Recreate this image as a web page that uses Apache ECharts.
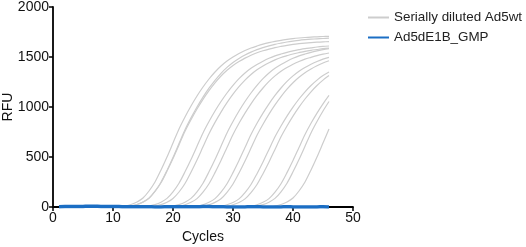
<!DOCTYPE html>
<html>
<head>
<meta charset="utf-8">
<script src="https://cdn.jsdelivr.net/npm/echarts@6/dist/echarts.min.js"></script>
<style>
  html, body { margin: 0; padding: 0; background: #fff; }
  #main { width: 526px; height: 247px; }
</style>
</head>
<body>
<div id="main"></div>
<script>
// amplification cycles
var cycles = [1,2,3,4,5,6,7,8,9,10,11,12,13,14,15,16,17,18,19,20,21,22,23,24,25,26,27,28,29,30,31,32,33,34,35,36,37,38,39,40,41,42,43,44,45,46];

// RFU of the serial dilution curves
var wtA1 = [0,0,0,0,0,0,0,0,0,0, 0, 10,25,50,90,160,250,370,500,640,780,900,1010,1110,1200,1280,1350,1410,1460,1500,1535,1565,1590,1610,1628,1643,1656,1667,1676,1684,1690,1695,1699,1702,1705,1707];
var wtA2 = [0,0,0,0,0,0,0,0,0,0, 0,0, 10,25,50,89,158,248,366,495,634,772,891,1000,1099,1188,1267,1337,1396,1445,1485,1520,1549,1574,1594,1612,1627,1639,1650,1659,1667,1673,1678,1682,1685,1688];
var wtA3 = [0,0,0,0,0,0,0,0,0,0, 0,0, 10,24,49,87,155,243,359,485,621,757,873,980,1077,1164,1242,1310,1368,1416,1455,1489,1518,1542,1562,1579,1594,1606,1617,1626,1633,1639,1644,1648,1651,1654];
var wtB1 = [0,0,0,0,0,0,0,0,0,0, 0,0,0,0,0, 10,24,48,86,152,238,352,475,608,741,855,960,1055,1140,1216,1283,1340,1387,1425,1458,1487,1511,1530,1547,1561,1573,1584,1592,1600,1606,1610];
var wtB2 = [0,0,0,0,0,0,0,0,0,0, 0,0,0,0,0,0, 9,24,47,85,150,235,348,470,602,733,846,949,1043,1128,1203,1269,1325,1372,1410,1443,1471,1495,1513,1530,1544,1557,1567,1575,1583,1589];
var wtC1 = [0,0,0,0,0,0,0,0,0,0, 0,0,0,0,0,0,0,0,0, 10,24,48,86,152,238,352,475,608,741,855,960,1055,1140,1216,1283,1340,1387,1425,1458,1487,1511,1530,1547,1561,1573,1584];
var wtC2 = [0,0,0,0,0,0,0,0,0,0, 0,0,0,0,0,0,0,0,0,0, 9,23,47,84,149,233,344,465,595,725,837,939,1032,1116,1190,1256,1311,1358,1395,1428,1455,1479,1497,1514,1528,1540];
var wtD1 = [0,0,0,0,0,0,0,0,0,0, 0,0,0,0,0,0,0,0,0,0, 0,0,0, 9,23,47,84,149,233,344,465,595,725,837,939,1032,1116,1190,1256,1311,1358,1395,1428,1455,1479,1497];
var wtD2 = [0,0,0,0,0,0,0,0,0,0, 0,0,0,0,0,0,0,0,0,0, 0,0,0,0, 9,23,46,83,147,230,340,460,589,718,828,929,1021,1104,1178,1242,1297,1343,1380,1412,1440,1463];
var wtE1 = [0,0,0,0,0,0,0,0,0,0, 0,0,0,0,0,0,0,0,0,0, 0,0,0,0,0,0,0, 9,23,45,81,144,225,333,450,576,702,810,909,999,1080,1152,1215,1269,1314,1350];
var wtE2 = [0,0,0,0,0,0,0,0,0,0, 0,0,0,0,0,0,0,0,0,0, 0,0,0,0,0,0,0,0, 9,23,45,81,144,225,333,450,576,702,810,909,999,1080,1152,1215,1269,1314];
var wtF1 = [0,0,0,0,0,0,0,0,0,0, 0,0,0,0,0,0,0,0,0,0, 0,0,0,0,0,0,0,0,0,0, 0,0, 9,23,47,84,149,233,344,465,595,725,837,939,1032,1116];
var wtF2 = [0,0,0,0,0,0,0,0,0,0, 0,0,0,0,0,0,0,0,0,0, 0,0,0,0,0,0,0,0,0,0, 0,0,0, 10,24,48,86,152,238,352,475,608,741,855,960,1055];
var wtG1 = [0,0,0,0,0,0,0,0,0,0, 0,0,0,0,0,0,0,0,0,0, 0,0,0,0,0,0,0,0,0,0, 0,0,0,0,0,0, 10,25,50,90,160,250,370,500,640,780];

// flat GMP sample
var gmp = [3,5,6,4,6,8,7,6,6,5,4,3,2,3,3,2,1,1,2,3,3,2,2,3,4,4,3,2,1,1,0,1,2,2,1,1,0,1,2,1,0,0,1,1,2,1];

var wtCurves = [wtA1, wtA2, wtA3, wtB1, wtB2, wtC1, wtC2, wtD1, wtD2, wtE1, wtE2, wtF1, wtF2, wtG1];
var xTicks = [0, 10, 20, 30, 40, 50];
var yTicks = [0, 500, 1000, 1500, 2000];

function pairs(vals) {
    return cycles.map(function (c, i) { return [c, vals[i]]; });
}

var font = 'Liberation Sans, Arial, Helvetica, sans-serif';
var series = [];
wtCurves.forEach(function (vals) {
    series.push({
        name: 'Serially diluted Ad5wt',
        type: 'line',
        data: pairs(vals),
        symbol: 'none',
        smooth: 0.3,
        lineStyle: { color: '#cdcdcd', width: 1.2 },
        itemStyle: { color: '#cdcdcd' },
        z: 2
    });
});
series.push({
    name: 'Ad5dE1B_GMP',
    type: 'line',
    data: pairs(gmp),
    symbol: 'none',
    smooth: true,
    lineStyle: { color: '#1b6ec4', width: 3.5 },
    itemStyle: { color: '#1b6ec4' },
    z: 5
});

var myChart = echarts.init(document.getElementById('main'));
var option = {
    animation: false,
    backgroundColor: '#fff',
    grid: { left: 53, top: 7, width: 300, height: 200, containLabel: false, outerBoundsMode: 'none' },
    legend: {
        data: ['Serially diluted Ad5wt', 'Ad5dE1B_GMP'],
        orient: 'vertical',
        left: 362,
        top: 6,
        itemWidth: 21,
        itemHeight: 12,
        itemGap: 7,
        itemStyle: { opacity: 0 },
        lineStyle: { width: 2 },
        textStyle: { fontFamily: font, fontSize: 13.4, color: '#222' }
    },
    xAxis: {
        type: 'value',
        min: xTicks[0],
        max: xTicks[xTicks.length - 1],
        interval: 10,
        name: 'Cycles',
        nameLocation: 'middle',
        nameGap: 23,
        nameMoveOverlap: false,
        nameTextStyle: { fontFamily: font, fontSize: 14, color: '#111' },
        axisLine: { onZero: false, lineStyle: { color: '#000', width: 1.8 } },
        axisTick: { show: true, length: 4, lineStyle: { color: '#000', width: 1.5 } },
        axisLabel: { fontFamily: font, fontSize: 14, color: '#111', margin: 4 },
        splitLine: { show: false }
    },
    yAxis: {
        type: 'value',
        min: yTicks[0],
        max: yTicks[yTicks.length - 1],
        interval: 500,
        name: 'RFU',
        nameLocation: 'middle',
        nameGap: 38,
        nameMoveOverlap: false,
        nameTextStyle: { fontFamily: font, fontSize: 14, color: '#111' },
        axisLine: { show: true, lineStyle: { color: '#000', width: 1.8 } },
        axisTick: { show: true, length: 4, lineStyle: { color: '#000', width: 1.5 } },
        axisLabel: { fontFamily: font, fontSize: 14, color: '#111', margin: 4, formatter: function (v) { return String(v); } },
        splitLine: { show: false }
    },
    series: series
};

myChart.setOption(option);
</script>
</body>
</html>
